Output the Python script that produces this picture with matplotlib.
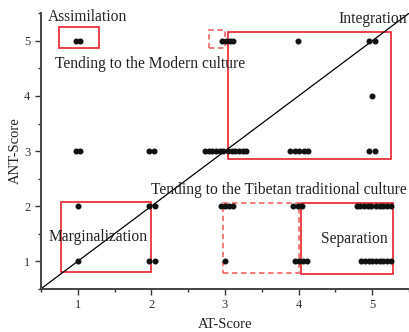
import numpy as np
import matplotlib.pyplot as plt
from matplotlib.patches import Rectangle
from matplotlib.ticker import MultipleLocator

plt.rcParams['font.family'] = ['Liberation Serif', 'DejaVu Serif']

# AT / ANT scores of the respondents (slightly jittered so overlapping points show)
at_score = [
    0.97, 1.03, 2.96, 3.02, 3.07, 3.11, 3.99, 4.96, 5.04,
    5.0,
    0.97, 1.03, 1.97, 2.04,
    2.73, 2.78, 2.83, 2.88, 2.93, 2.98, 3.04, 3.09, 3.14, 3.19, 3.24, 3.29,
    3.89, 3.95, 4.01, 4.07, 4.13, 4.96, 5.04,
    1.0, 1.97, 2.05, 2.95, 3.0, 3.06, 3.11, 3.93, 3.99, 4.05,
    4.79, 4.84, 4.89, 4.94, 4.99, 5.05, 5.1, 5.15, 5.2, 5.25,
    1.0, 1.97, 2.05, 3.0, 3.95, 4.0, 4.06, 4.12,
    4.85, 4.9, 4.95, 5.0, 5.05, 5.1, 5.15, 5.2, 5.25,
]
ant_score = (
    [5] * 9 + [4] + [3] * 4 + [3] * 12 + [3] * 7
    + [2] * 10 + [2] * 10 + [1] * 8 + [1] * 9
)

# acculturation regions: (x0, y0, x1, y1, dashed)
regions = [
    (0.74, 4.87, 1.29, 5.25, False),
    (2.79, 4.87, 3.0, 5.2, True),
    (3.04, 2.86, 5.25, 5.16, False),
    (0.77, 0.8, 2.0, 2.07, False),
    (2.98, 0.79, 4.0, 2.06, True),
    (4.03, 0.77, 5.28, 2.05, False),
]

labels = [
    (0.6, 5.43, 'Assimilation'),
    (0.69, 4.58, 'Tending to the Modern culture'),
    (4.54, 5.39, 'Integration'),
    (1.99, 2.3, 'Tending to the Tibetan traditional culture'),
    (0.6, 1.44, 'Marginalization'),
    (4.3, 1.4, 'Separation'),
]

fig = plt.figure(figsize=(4.09, 3.32), dpi=100)
ax = fig.add_axes([0.1, 0.13, 0.9, 0.83])

ax.plot([0.5, 5.6], [0.5, 5.6], color='black', lw=0.9, zorder=2)
ax.scatter(at_score, ant_score, s=11, color='#111111', zorder=3)

for x0, y0, x1, y1, dashed in regions:
    if dashed:
        r = Rectangle((x0, y0), x1 - x0, y1 - y0, fill=False,
                      ec='#f07070', lw=1.3, ls=(0, (3, 2)), zorder=1)
    else:
        r = Rectangle((x0, y0), x1 - x0, y1 - y0, fill=False,
                      ec='#e8202a', lw=1.2, zorder=1)
    ax.add_patch(r)

for x, y, t in labels:
    ax.text(x, y, t, fontsize=11.2, color='#222222', va='center', ha='left')

ax.set_xlim(0.5, 5.5)
ax.set_ylim(0.5, 5.5)
ax.xaxis.set_major_locator(MultipleLocator(1))
ax.yaxis.set_major_locator(MultipleLocator(1))
ax.xaxis.set_minor_locator(MultipleLocator(0.5))
ax.yaxis.set_minor_locator(MultipleLocator(0.5))
ax.tick_params(which='major', length=4, width=1, labelsize=9, colors='#333333')
ax.tick_params(which='minor', length=2.5, width=1, colors='#333333')

for s in ['top', 'right']:
    ax.spines[s].set_visible(False)
for s in ['left', 'bottom']:
    ax.spines[s].set_linewidth(1.4)
    ax.spines[s].set_color('#444444')

ax.set_xlabel('AT-Score', fontsize=10.5, color='#222222', labelpad=5)
ax.set_ylabel('ANT-Score', fontsize=10.5, color='#222222', labelpad=2)

fig.savefig('out.png', dpi=100)
